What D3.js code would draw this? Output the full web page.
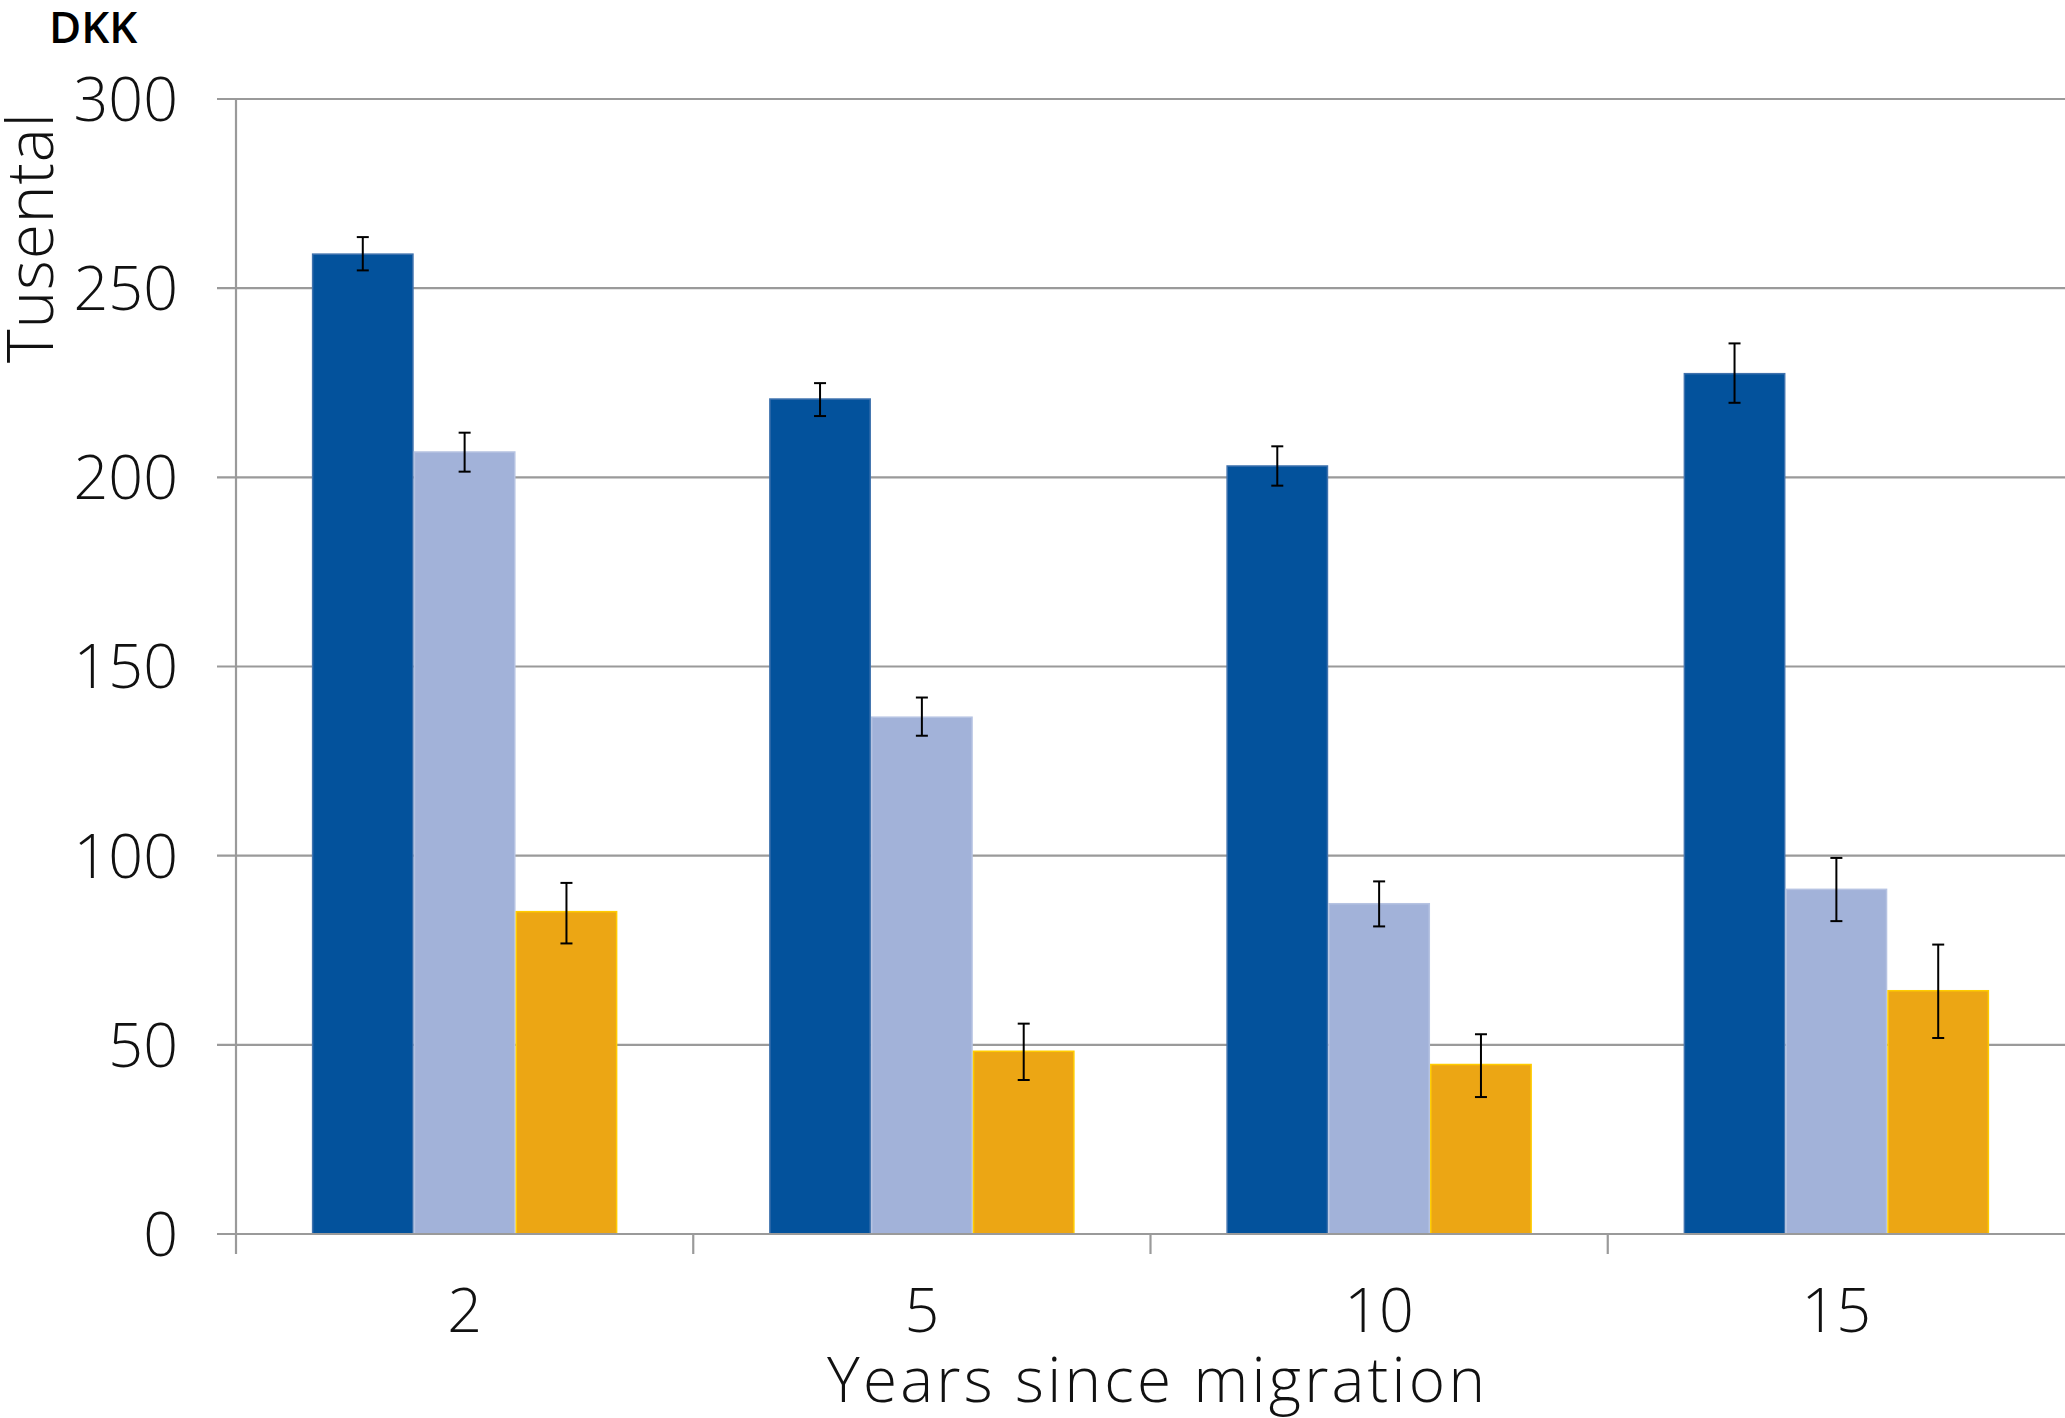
<!DOCTYPE html>
<html>
<head>
<meta charset="utf-8">
<script src="https://cdn.jsdelivr.net/npm/d3@7"></script>
<style>
  html, body { margin: 0; padding: 0; background: #fff; }
  svg { display: block; }
  text { font-family: "Open Sans", Roboto, "Liberation Sans", sans-serif; }
</style>
</head>
<body>
<svg id="chart" width="2065" height="1418"></svg>
<script>
const categories = ["2", "5", "10", "15"];
const seriesNames = ["s1", "s2", "s3"];
const seriesColors = ["#03529C", "#A2B2D9", "#ECA614"];
const seriesStrokes = ["#3F72AE", "#B6C3E2", "#FFCC00"];
const values1 = [259.0, 220.7, 203.0, 227.4];
const values2 = [206.7, 136.6, 87.3, 91.1];
const values3 = [85.2, 48.3, 44.8, 64.3];
const errLow1 = [254.7, 216.2, 197.8, 219.7];
const errHigh1 = [263.5, 224.9, 208.2, 235.4];
const errLow2 = [201.5, 131.7, 81.3, 82.7];
const errHigh2 = [211.8, 141.8, 93.2, 99.4];
const errLow3 = [76.8, 40.7, 36.2, 51.8];
const errHigh3 = [92.8, 55.6, 52.8, 76.5];
const yTicks = [0, 50, 100, 150, 200, 250, 300];

(function () {
const values = [values1, values2, values3];
const errLow = [errLow1, errLow2, errLow3];
const errHigh = [errHigh1, errHigh2, errHigh3];

const svg = d3.select("#chart");
const mLeft = 236, mRight = 2065, mTop = 99, mBottom = 1234;

const x = d3.scaleBand().domain(categories).range([mLeft, mRight]).paddingInner(0).paddingOuter(0);
const xInner = d3.scaleBand().domain(seriesNames).range([0, x.bandwidth()]).paddingOuter(0.745).paddingInner(0);
const y = d3.scaleLinear().domain([0, 300]).range([mBottom, mTop]);

// gridlines
svg.append("g").selectAll("line").data(yTicks).join("line")
  .attr("x1", mLeft - 19).attr("x2", mRight)
  .attr("y1", d => y(d)).attr("y2", d => y(d))
  .attr("stroke", "#9a9a9a").attr("stroke-width", 2.2);

// y tick labels
svg.append("g").selectAll("text").data(yTicks).join("text")
  .attr("x", 178).attr("y", d => y(d))
  .attr("dy", "0.36em")
  .attr("text-anchor", "end")
  .attr("font-size", 61).attr("font-weight", 300).attr("fill", "#111")
  .text(d => d);

// bars
const groups = svg.append("g").selectAll("g").data(categories).join("g")
  .attr("transform", d => `translate(${x(d)},0)`);

seriesNames.forEach((s, si) => {
  groups.append("rect")
    .attr("x", xInner(s) + 0.75)
    .attr("width", xInner.bandwidth() - 1.5)
    .attr("y", (d, i) => y(values[si][i]))
    .attr("height", (d, i) => y(0) - y(values[si][i]))
    .attr("fill", seriesColors[si])
    .attr("stroke", seriesStrokes[si]).attr("stroke-width", 1.5);
});

// error bars
seriesNames.forEach((s, si) => {
  const cx = d => xInner(s) + xInner.bandwidth() / 2;
  groups.append("line")
    .attr("x1", cx).attr("x2", cx)
    .attr("y1", (d, i) => y(errLow[si][i])).attr("y2", (d, i) => y(errHigh[si][i]))
    .attr("stroke", "#000").attr("stroke-width", 2);
  [errLow, errHigh].forEach(arr => {
    groups.append("line")
      .attr("x1", d => cx(d) - 6).attr("x2", d => cx(d) + 6)
      .attr("y1", (d, i) => y(arr[si][i])).attr("y2", (d, i) => y(arr[si][i]))
      .attr("stroke", "#000").attr("stroke-width", 2);
  });
});

// axes lines
svg.append("line").attr("x1", mLeft).attr("x2", mLeft).attr("y1", mTop).attr("y2", mBottom + 20)
  .attr("stroke", "#9a9a9a").attr("stroke-width", 2.2);
svg.append("line").attr("x1", mLeft - 19).attr("x2", mRight).attr("y1", mBottom).attr("y2", mBottom)
  .attr("stroke", "#9a9a9a").attr("stroke-width", 2.2);
// x ticks at band boundaries
const boundaries = categories.map(c => x(c)).concat([mRight]);
svg.append("g").selectAll("line").data(boundaries.slice(1, 4)).join("line")
  .attr("x1", d => d).attr("x2", d => d).attr("y1", mBottom).attr("y2", mBottom + 20)
  .attr("stroke", "#9a9a9a").attr("stroke-width", 2.2);

// x tick labels
svg.append("g").selectAll("text").data(categories).join("text")
  .attr("x", d => x(d) + x.bandwidth() / 2).attr("y", 1332)
  .attr("text-anchor", "middle")
  .attr("font-size", 61).attr("font-weight", 300).attr("fill", "#111")
  .text(d => d);

// x axis title
svg.append("text").attr("x", 1156).attr("y", 1402)
  .attr("text-anchor", "middle").attr("font-size", 62).attr("font-weight", 300).attr("fill", "#111")
  .attr("textLength", 658).attr("lengthAdjust", "spacing")
  .text("Years since migration");

// y axis title
svg.append("text").attr("transform", "translate(53,238) rotate(-90)")
  .attr("text-anchor", "middle").attr("font-size", 64).attr("font-weight", 300).attr("fill", "#111")
  .attr("textLength", 250).attr("lengthAdjust", "spacing")
  .text("Tusental");

// unit label
svg.append("text").attr("x", 49).attr("y", 43)
  .attr("font-size", 44).attr("font-weight", 600).attr("fill", "#000")
  .text("DKK");
})();
</script>
</body>
</html>
